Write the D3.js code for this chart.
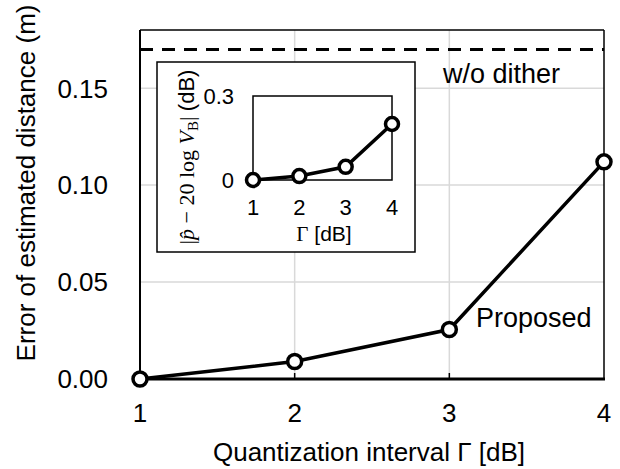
<!DOCTYPE html>
<html>
<head>
<meta charset="utf-8">
<script src="https://cdn.jsdelivr.net/npm/d3@7"></script>
<style>
  body { margin: 0; background: #fff; }
  text { font-family: Arial, "Liberation Sans", sans-serif; fill: #000; }
</style>
</head>
<body>
<script>
// main series
const gammaValues = [1, 2, 3, 4];
const distError = [0, 0.009, 0.0255, 0.112];
const withoutDither = 0.17;
const yTicks = [0, 0.05, 0.10, 0.15];

// inset series
const insetValues = [0, 0.014, 0.047, 0.2];
const insetYTicks = [0, 0.3];

const w = 620, h = 469;
const margin = { top: 30, right: 16, bottom: 90, left: 140 };

const svg = d3.select("body").append("svg")
    .attr("width", w)
    .attr("height", h);

const xScale = d3.scaleLinear().domain([1, 4]).range([margin.left, w - margin.right]);
const yScale = d3.scaleLinear().domain([0, 0.18]).range([h - margin.bottom, margin.top]);

// grid
svg.append("g").selectAll("line")
    .data(yTicks.filter(d => d > 0))
    .enter().append("line")
    .attr("x1", xScale(1)).attr("x2", xScale(4))
    .attr("y1", d => yScale(d)).attr("y2", d => yScale(d))
    .attr("stroke", "#d9d9d9").attr("stroke-width", 1.5);

svg.append("g").selectAll("line")
    .data([2, 3])
    .enter().append("line")
    .attr("x1", d => xScale(d)).attr("x2", d => xScale(d))
    .attr("y1", yScale(0)).attr("y2", yScale(0.18))
    .attr("stroke", "#d9d9d9").attr("stroke-width", 1.5);

// inside tick marks on x axis
svg.append("g").selectAll("line")
    .data([2, 3])
    .enter().append("line")
    .attr("x1", d => xScale(d)).attr("x2", d => xScale(d))
    .attr("y1", yScale(0)).attr("y2", yScale(0) - 6)
    .attr("stroke", "#000").attr("stroke-width", 1.5);

// frame
svg.append("line")
    .attr("x1", xScale(1)).attr("x2", xScale(4))
    .attr("y1", yScale(0.18)).attr("y2", yScale(0.18))
    .attr("stroke", "#000").attr("stroke-width", 1.5);
svg.append("line")
    .attr("x1", xScale(4)).attr("x2", xScale(4))
    .attr("y1", yScale(0.18)).attr("y2", yScale(0))
    .attr("stroke", "#000").attr("stroke-width", 1.5);
svg.append("line")
    .attr("x1", xScale(1)).attr("x2", xScale(1))
    .attr("y1", yScale(0.18)).attr("y2", yScale(0))
    .attr("stroke", "#000").attr("stroke-width", 2);
svg.append("line")
    .attr("x1", xScale(1) - 1).attr("x2", xScale(4) + 1)
    .attr("y1", yScale(0)).attr("y2", yScale(0))
    .attr("stroke", "#000").attr("stroke-width", 3);

// w/o dither dashed line
svg.append("line")
    .attr("x1", xScale(1)).attr("x2", xScale(4))
    .attr("y1", yScale(withoutDither)).attr("y2", yScale(withoutDither))
    .attr("stroke", "#000").attr("stroke-width", 3)
    .attr("stroke-dasharray", "13,9");

// tick labels
svg.append("g").selectAll("text")
    .data(yTicks)
    .enter().append("text")
    .attr("x", 108)
    .attr("y", d => yScale(d))
    .attr("dy", "0.36em")
    .attr("text-anchor", "end")
    .style("font-size", "26px")
    .text(d => d3.format(".2f")(d));

svg.append("g").selectAll("text")
    .data(gammaValues)
    .enter().append("text")
    .attr("x", d => xScale(d))
    .attr("y", 422)
    .attr("text-anchor", "middle")
    .style("font-size", "26px")
    .text(d => d);

// axis titles
svg.append("text")
    .attr("x", 369).attr("y", 461)
    .attr("text-anchor", "middle")
    .style("font-size", "26px")
    .text("Quantization interval \u0393 [dB]");

svg.append("text")
    .attr("transform", "translate(35,183) rotate(-90)")
    .attr("text-anchor", "middle")
    .style("font-size", "26px")
    .text("Error of estimated distance (m)");

// inset
const inset = svg.append("g");
inset.append("rect")
    .attr("x", 157).attr("y", 62)
    .attr("width", 258).attr("height", 190)
    .attr("fill", "#fff").attr("stroke", "#000").attr("stroke-width", 1.5);

const ixScale = d3.scaleLinear().domain([1, 4]).range([253, 392]);
const iyScale = d3.scaleLinear().domain([0, 0.3]).range([180, 96]);

inset.append("rect")
    .attr("x", ixScale(1)).attr("y", iyScale(0.3))
    .attr("width", ixScale(4) - ixScale(1))
    .attr("height", iyScale(0) - iyScale(0.3))
    .attr("fill", "none").attr("stroke", "#000").attr("stroke-width", 1.5);

inset.append("g").selectAll("text")
    .data(insetYTicks)
    .enter().append("text")
    .attr("x", 234)
    .attr("y", d => iyScale(d))
    .attr("dy", "0.36em")
    .attr("text-anchor", "end")
    .style("font-size", "22px")
    .text(d => d);

inset.append("g").selectAll("text")
    .data(gammaValues)
    .enter().append("text")
    .attr("x", d => ixScale(d))
    .attr("y", 215)
    .attr("text-anchor", "middle")
    .style("font-size", "22px")
    .text(d => d);

const glab = inset.append("text")
    .attr("x", 324).attr("y", 241)
    .attr("text-anchor", "middle")
    .style("font-size", "21px");
glab.append("tspan").style("font-family", "'Liberation Serif', serif").text("\u0393");
glab.append("tspan").text(" [dB]");

const ylab = inset.append("text")
    .attr("transform", "translate(194,157) rotate(-90)")
    .attr("text-anchor", "middle")
    .style("font-size", "22px")
    .style("font-family", "'Liberation Serif', 'DejaVu Serif', serif");
ylab.append("tspan").text("|");
ylab.append("tspan").style("font-style", "italic").text("p\u0302");
ylab.append("tspan").text(" \u2212 20 log ");
ylab.append("tspan").style("font-style", "italic").text("V");
ylab.append("tspan").attr("dy", 4).style("font-size", "15px").text("B");
ylab.append("tspan").attr("dy", -4).text("| ");
ylab.append("tspan").style("font-family", "Arial, 'Liberation Sans', sans-serif").text("(dB)");

const iline = d3.line()
    .x((d, i) => ixScale(gammaValues[i]))
    .y(d => iyScale(d));

inset.append("path")
    .datum(insetValues)
    .attr("d", iline)
    .attr("fill", "none").attr("stroke", "#000").attr("stroke-width", 3.5);

inset.selectAll("circle")
    .data(insetValues)
    .enter().append("circle")
    .attr("cx", (d, i) => ixScale(gammaValues[i]))
    .attr("cy", d => iyScale(d))
    .attr("r", 6.5)
    .attr("fill", "#fff").attr("stroke", "#000").attr("stroke-width", 3.5);

// main line
const line = d3.line()
    .x((d, i) => xScale(gammaValues[i]))
    .y(d => yScale(d));

svg.append("path")
    .datum(distError)
    .attr("d", line)
    .attr("fill", "none").attr("stroke", "#000").attr("stroke-width", 3.5);

svg.append("g").selectAll("circle")
    .data(distError)
    .enter().append("circle")
    .attr("cx", (d, i) => xScale(gammaValues[i]))
    .attr("cy", d => yScale(d))
    .attr("r", 7)
    .attr("fill", "#fff").attr("stroke", "#000").attr("stroke-width", 3.5);

// annotations
svg.append("text")
    .attr("x", 443).attr("y", 83)
    .style("font-size", "27px")
    .text("w/o dither");

svg.append("text")
    .attr("x", 476).attr("y", 327)
    .style("font-size", "27px")
    .text("Proposed");
</script>
</body>
</html>
